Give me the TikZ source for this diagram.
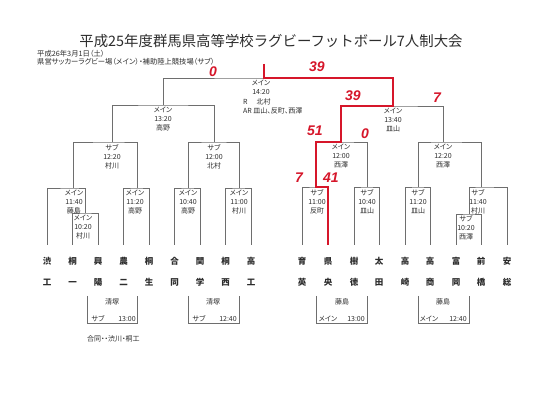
\documentclass[tikz,border=0pt]{standalone}
\usepackage{fontspec}
\setmainfont{Noto Sans CJK JP}
\newfontfamily\propfont[RawFeature=+palt]{Noto Sans CJK JP}
\newfontfamily\handfont{Liberation Sans}
\definecolor{linegray}{RGB}{110, 110, 110}
\definecolor{textgray}{RGB}{45, 45, 45}
\definecolor{scorered}{RGB}{214, 22, 42}
\usetikzlibrary{positioning}

\begin{document}
\begin{tikzpicture}[
        x=1pt, y=-1pt,
        every node/.style={text=textgray, inner sep=0pt},
        line/.style={draw=linegray, line width=0.8pt},
        win/.style={draw=scorered, line width=1.8pt},
        info/.style={font=\propfont\fontsize{7}{9}\selectfont, align=center},
        team/.style={font=\fontsize{8.5}{10}\selectfont\bfseries, anchor=base},
        score/.style={font=\handfont\fontsize{14}{14}\selectfont\bfseries\itshape, text=scorered},
        note/.style={font=\propfont\fontsize{7}{8}\selectfont, anchor=base}
    ]
        \useasboundingbox[fill=white] (0,0) rectangle (558,401);

        % Heading
        \node[font=\fontsize{14.4}{16}\selectfont] (title) at (271,41) {平成25年度群馬県高等学校ラグビーフットボール7人制大会};
        \node[font=\propfont\fontsize{7.3}{8}\selectfont, anchor=west] (date) at (37,53.5) {平成26年3月1日（土）};
        \node[font=\propfont\fontsize{7.3}{8}\selectfont, anchor=west] (venue) at (37,62) {県営サッカーラグビー場（メイン）・補助陸上競技場（サブ）};

        % Leaves
        \coordinate (l1) at (47,245);
        \coordinate (l2) at (72.5,245);
        \coordinate (l3) at (98,245);
        \coordinate (l4) at (123.5,245);
        \coordinate (l5) at (149,245);
        \coordinate (l6) at (174.5,245);
        \coordinate (l7) at (200,245);
        \coordinate (l8) at (225.5,245);
        \coordinate (l9) at (251,245);
        \coordinate (l10) at (302,245);
        \coordinate (l11) at (328,245);
        \coordinate (l12) at (354,245);
        \coordinate (l13) at (379,245);
        \coordinate (l14) at (405,245);
        \coordinate (l15) at (430,245);
        \coordinate (l16) at (456,245);
        \coordinate (l17) at (481,245);
        \coordinate (l18) at (507,245);

        % Teams
        \node[team] (t1) at (47,265) {渋};     \node[team] (t1b) at (47,286) {工};
        \node[team] (t2) at (72.5,265) {桐};   \node[team] (t2b) at (72.5,286) {一};
        \node[team] (t3) at (98,265) {興};     \node[team] (t3b) at (98,286) {陽};
        \node[team] (t4) at (123.5,265) {農};  \node[team] (t4b) at (123.5,286) {二};
        \node[team] (t5) at (149,265) {桐};    \node[team] (t5b) at (149,286) {生};
        \node[team] (t6) at (174.5,265) {合};  \node[team] (t6b) at (174.5,286) {同};
        \node[team] (t7) at (200,265) {関};    \node[team] (t7b) at (200,286) {学};
        \node[team] (t8) at (225.5,265) {桐};  \node[team] (t8b) at (225.5,286) {西};
        \node[team] (t9) at (251,265) {高};    \node[team] (t9b) at (251,286) {工};
        \node[team] (t10) at (302,265) {育};   \node[team] (t10b) at (302,286) {英};
        \node[team] (t11) at (328,265) {県};   \node[team] (t11b) at (328,286) {央};
        \node[team] (t12) at (354,265) {樹};   \node[team] (t12b) at (354,286) {徳};
        \node[team] (t13) at (379,265) {太};   \node[team] (t13b) at (379,286) {田};
        \node[team] (t14) at (405,265) {高};   \node[team] (t14b) at (405,286) {崎};
        \node[team] (t15) at (430,265) {高};   \node[team] (t15b) at (430,286) {商};
        \node[team] (t16) at (456,265) {富};   \node[team] (t16b) at (456,286) {岡};
        \node[team] (t17) at (481,265) {前};   \node[team] (t17b) at (481,286) {橋};
        \node[team] (t18) at (507,265) {安};   \node[team] (t18b) at (507,286) {総};

        % Match points
        \coordinate (a1) at (85,213);
        \coordinate (a2) at (73,188);
        \coordinate (a3) at (137,188);
        \coordinate (a4) at (188,188);
        \coordinate (a5) at (239,188);
        \coordinate (q1) at (112,142);
        \coordinate (q2) at (214,142);
        \coordinate (s1) at (163,105);
        \coordinate (f) at (264,78);
        \coordinate (s2) at (393,106);
        \coordinate (q3) at (341,142);
        \coordinate (q4) at (443,142);
        \coordinate (b1) at (316,187);
        \coordinate (b2) at (367,187);
        \coordinate (b3) at (418,187);
        \coordinate (b4) at (469,214);
        \coordinate (b5) at (481,187);

        % Bracket
        \draw[line] (l2) |- (a1) -| (l3);
        \draw[line] (l1) |- (a2) -| (a1);
        \draw[line] (l4) |- (a3) -| (l5);
        \draw[line] (l6) |- (a4) -| (l7);
        \draw[line] (l8) |- (a5) -| (l9);
        \draw[line] (a2) |- (q1) -| (a3);
        \draw[line] (a4) |- (q2) -| (a5);
        \draw[line] (q1) |- (s1) -| (q2);
        \draw[line] (s1) |- (f) -| (s2);
        \draw[line] (q3) |- (s2) -| (q4);
        \draw[line] (b1) |- (q3) -| (b2);
        \draw[line] (b3) |- (q4) -| (b5);
        \draw[line] (l10) |- (b1) -| (l11);
        \draw[line] (l12) |- (b2) -| (l13);
        \draw[line] (l14) |- (b3) -| (l15);
        \draw[line] (l16) |- (b4) -| (l17);
        \draw[line] (b4) |- (b5) -| (l18);

        % Winner's path
        \draw[win] ([yshift=14pt]f) -- (f) -| (s2) -| (q3) -| (b1) -| (l11);

        % Match info
        \node[info, below=2pt of f, xshift=-3pt] (fm) {メイン\\14:20};
        \node[info, align=left, anchor=north west] (fref) at (243,98.5) {R\hspace{9pt}北村\\AR 皿山、反町、西澤};
        \node[info, below=2pt of s1] (s1m) {メイン\\13:20\\高野};
        \node[info, below=2pt of q1] (q1m) {サブ\\12:20\\村川};
        \node[info, below=2pt of q2] (q2m) {サブ\\12:00\\北村};
        \node[info, below=2pt of a2, xshift=1pt] (a2m) {メイン\\11:40\\藤島};
        \node[info, below=2pt of a1, xshift=-2pt] (a1m) {メイン\\10:20\\村川};
        \node[info, below=2pt of a3, xshift=-2pt] (a3m) {メイン\\11:20\\高野};
        \node[info, below=2pt of a4] (a4m) {メイン\\10:40\\高野};
        \node[info, below=2pt of a5] (a5m) {メイン\\11:00\\村川};
        \node[info, below=2pt of s2] (s2m) {メイン\\13:40\\皿山};
        \node[info, below=2pt of q3] (q3m) {メイン\\12:00\\西澤};
        \node[info, below=2pt of q4] (q4m) {メイン\\12:20\\西澤};
        \node[info, below=2pt of b1, xshift=1pt] (b1m) {サブ\\11:00\\反町};
        \node[info, below=2pt of b2] (b2m) {サブ\\10:40\\皿山};
        \node[info, below=2pt of b3] (b3m) {サブ\\11:20\\皿山};
        \node[info, below=2pt of b5, xshift=-3pt] (b5m) {サブ\\11:40\\村川};
        \node[info, below=1pt of b4, xshift=-3pt] (b4m) {サブ\\10:20\\西澤};

        % Scores
        \node[score] (sc1) at (213,72) {0};
        \node[score] (sc2) at (317,67) {39};
        \node[score] (sc3) at (353,96) {39};
        \node[score] (sc4) at (437,98) {7};
        \node[score] (sc5) at (315,131) {51};
        \node[score] (sc6) at (365,134) {0};
        \node[score] (sc7) at (299,178) {7};
        \node[score] (sc8) at (331,178) {41};

        % Placing games
        \coordinate (c1) at (87,296);
        \coordinate (c2) at (188,296);
        \coordinate (c3) at (316,296);
        \coordinate (c4) at (418,296);
        \draw[line] (c1) -- ++(0,27) -- ++(50,0) -- ++(0,-27);
        \draw[line] (c2) -- ++(0,27) -- ++(51,0) -- ++(0,-27);
        \draw[line] (c3) -- ++(0,27) -- ++(51,0) -- ++(0,-27);
        \draw[line] (c4) -- ++(0,27) -- ++(51,0) -- ++(0,-27);
        \node[note] (c1r) at (112,305) {清塚};
        \node[note] (c1s) at (98,321.5) {サブ};
        \node[note] (c1t) at (127,321.5) {13:00};
        \node[note] (c2r) at (213,305) {清塚};
        \node[note] (c2s) at (199,321.5) {サブ};
        \node[note] (c2t) at (228,321.5) {12:40};
        \node[note] (c3r) at (342,305) {藤島};
        \node[note] (c3s) at (328,321.5) {メイン};
        \node[note] (c3t) at (356,321.5) {13:00};
        \node[note] (c4r) at (443,305) {藤島};
        \node[note] (c4s) at (429,321.5) {メイン};
        \node[note] (c4t) at (458,321.5) {12:40};
        \node[note, anchor=base west] (joint) at (87,341.5) {合同・・渋川・桐工};

    \end{tikzpicture}
\end{document}
